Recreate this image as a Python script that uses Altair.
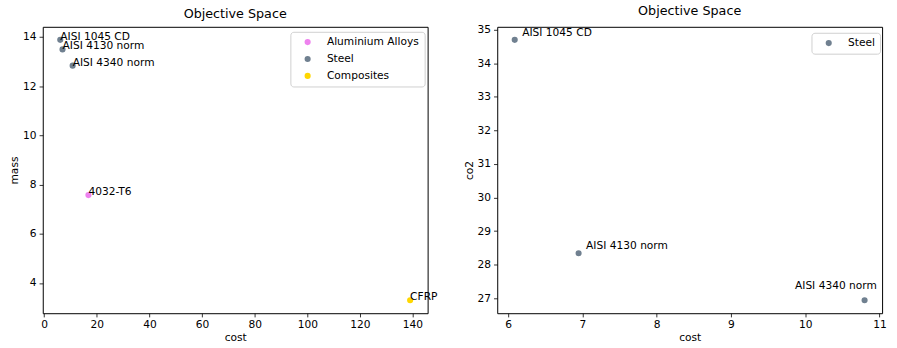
import altair as alt
import pandas as pd

# ---- data ----
names = ["AISI 1045 CD", "AISI 4130 norm", "AISI 4340 norm", "4032-T6", "CFRP"]
classes = ["Steel", "Steel", "Steel", "Aluminium Alloys", "Composites"]
cost = [6.09, 6.95, 10.80, 16.8, 139.1]
mass = [13.88, 13.49, 12.83, 7.57, 3.30]

steel_names = ["AISI 1045 CD", "AISI 4130 norm", "AISI 4340 norm"]
steel_cost = [6.09, 6.95, 10.80]
steel_co2 = [34.70, 28.34, 26.94]

class_order = ["Aluminium Alloys", "Steel", "Composites"]
class_colors = ["#EE82EE", "#708090", "#FFD700"]

left_xticks = [0, 20, 40, 60, 80, 100, 120, 140]
left_yticks = [4, 6, 8, 10, 12, 14]
right_xticks = [6, 7, 8, 9, 10, 11]
right_yticks = [27, 28, 29, 30, 31, 32, 33, 34, 35]

df1 = pd.DataFrame({"name": names, "cls": classes, "cost": cost, "mass": mass})
df2 = pd.DataFrame({"name": steel_names, "cls": ["Steel"] * 3,
                    "cost": steel_cost, "co2": steel_co2})


def pad_domain(vals, frac=0.05):
    lo, hi = min(vals), max(vals)
    m = (hi - lo) * frac
    return [lo - m, hi + m]


FONT = "DejaVu Sans"
FS = 10.7
TFS = 12.8
W, H = 387, 288

# ---- left panel ----
base1 = alt.Chart(df1)
x1 = alt.X("cost:Q", title="cost",
           scale=alt.Scale(domain=pad_domain(cost), nice=False, zero=False),
           axis=alt.Axis(values=left_xticks))
y1 = alt.Y("mass:Q", title="mass",
           scale=alt.Scale(domain=pad_domain(mass), nice=False, zero=False),
           axis=alt.Axis(values=left_yticks))

pts1 = base1.mark_circle(size=38, opacity=1).encode(
    x=x1, y=y1,
    color=alt.Color("cls:N", title=None,
                    scale=alt.Scale(domain=class_order, range=class_colors),
                    legend=alt.Legend(orient="none", legendX=249, legendY=5,
                                      padding=5, symbolOffset=7,
                                      labelOffset=14, rowPadding=5)),
)
txt1 = base1.mark_text(align="left", baseline="alphabetic", dx=0, dy=0,
                       fontSize=FS, font=FONT, color="black").encode(
    x=x1, y=y1, text="name:N")
left = alt.layer(pts1, txt1).properties(
    width=W, height=H,
    title=alt.TitleParams("Objective Space", fontSize=TFS, font=FONT,
                          fontWeight="normal", offset=6, color="black"))

# ---- right panel ----
base2 = alt.Chart(df2)
x2 = alt.X("cost:Q", title="cost",
           scale=alt.Scale(domain=pad_domain(steel_cost), nice=False, zero=False),
           axis=alt.Axis(values=right_xticks))
y2 = alt.Y("co2:Q", title="co2",
           scale=alt.Scale(domain=pad_domain(steel_co2), nice=False, zero=False),
           axis=alt.Axis(values=right_yticks))

pts2 = base2.mark_circle(size=38, opacity=1).encode(
    x=x2, y=y2,
    color=alt.Color("cls:N", title=None,
                    scale=alt.Scale(domain=["Steel"], range=["#708090"]),
                    legend=alt.Legend(orient="none", legendX=316, legendY=6,
                                      padding=5, symbolOffset=7,
                                      labelOffset=14, rowPadding=5)),
)
txt2a = base2.transform_filter(alt.datum.name != "AISI 4340 norm").mark_text(
    align="left", baseline="alphabetic", dx=7.5, dy=-4,
    fontSize=FS, font=FONT, color="black").encode(x=x2, y=y2, text="name:N")
txt2b = base2.transform_filter(alt.datum.name == "AISI 4340 norm").mark_text(
    align="left", baseline="alphabetic", dx=-70, dy=-11,
    fontSize=FS, font=FONT, color="black").encode(x=x2, y=y2, text="name:N")
right = alt.layer(pts2, txt2a, txt2b).properties(
    width=W, height=H,
    title=alt.TitleParams("Objective Space", fontSize=TFS, font=FONT,
                          fontWeight="normal", offset=6, color="black"))

chart = alt.hconcat(left, right, spacing=70, bounds="flush").resolve_scale(
    color="independent"
).properties(
    padding={"left": 8, "top": 3, "right": 10, "bottom": 2},
    background="white"
).configure_view(
    stroke="black", strokeWidth=1
).configure_axis(
    domain=False, grid=False, ticks=True, tickSize=3.7, tickColor="black",
    tickWidth=0.8, labelFontSize=FS, labelFont=FONT, labelColor="black",
    labelPadding=3, titleFontSize=FS, titleFont=FONT, titleColor="black",
    titleFontWeight="normal", titlePadding=3, labelFlush=False,
    labelOverlap=False
).configure_legend(
    labelFontSize=FS, labelFont=FONT, labelColor="black",
    symbolType="circle", symbolSize=38, symbolStrokeWidth=0,
    strokeColor="#d0d0d0", fillColor="white", cornerRadius=3
)

chart.save("out.html", embed_options={"renderer": "svg", "actions": False})
